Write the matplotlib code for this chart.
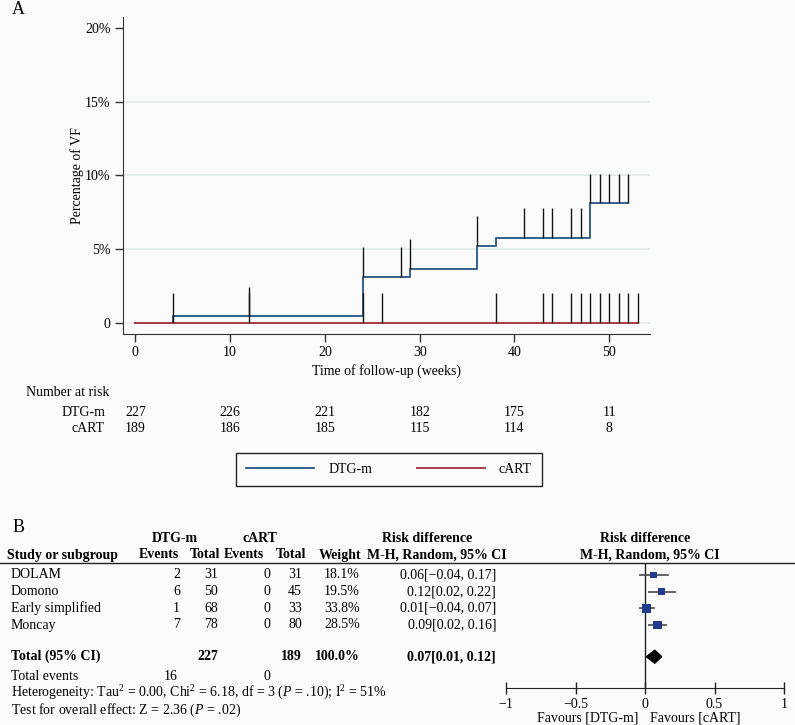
import matplotlib
matplotlib.use('Agg')
import matplotlib.pyplot as plt
import numpy as np
from matplotlib.lines import Line2D
from matplotlib.patches import Polygon
from matplotlib import transforms

plt.rcParams['font.family'] = ['Liberation Serif', 'DejaVu Serif']
plt.rcParams['mathtext.fontset'] = 'custom'
plt.rcParams['mathtext.rm'] = 'Liberation Serif'
plt.rcParams['mathtext.it'] = 'Liberation Serif:italic'
plt.rcParams['mathtext.bf'] = 'Liberation Serif:bold'

W, H = 795, 725
BG = '#fbfbfb'
BLUE = '#36608c'
RED = '#ac3b47'
FS = 10

# --- panel A: cumulative % with virological failure ---
dtg_t = [0, 4, 24, 29, 36, 38, 48, 52]
dtg_pct = [0, 0.44, 3.14, 3.66, 5.22, 5.78, 8.11, 8.11]
cart_t = [0, 53]
cart_pct = [0, 0]
dtg_cens = [12, 24, 28, 29, 36, 41, 43, 44, 46, 47, 48, 49, 50, 51, 52]
cart_cens = [4, 12, 24, 26, 38, 43, 44, 46, 47, 48, 49, 50, 51, 52, 53]

risk_t = [0, 10, 20, 30, 40, 50]
dtg_risk = [227, 226, 221, 182, 175, 11]
cart_risk = [189, 186, 185, 115, 114, 8]

# --- panel B: meta-analysis ---
studies = ['DOLAM', 'Domono', 'Early simplified', 'Moncay']
dtg_ev = [2, 6, 1, 7]
dtg_n = [31, 50, 68, 78]
cart_ev = [0, 0, 0, 0]
cart_n = [31, 45, 33, 80]
weight = [18.1, 19.5, 33.8, 28.5]
rd = [0.06, 0.12, 0.01, 0.09]
rd_lo = [-0.04, 0.02, -0.04, 0.02]
rd_hi = [0.17, 0.22, 0.07, 0.16]
tot_weight = 100.0
tot_rd, tot_lo, tot_hi = 0.07, 0.01, 0.12


def fx(x):
    return x / W


def fy(y):
    return 1 - y / H


def level(ts, times, vals):
    i = np.searchsorted(times, ts, side='right') - 1
    return np.asarray(vals)[i]


def fmt_ci(m, lo, hi):
    return f"{m:.2f}[{lo:.2f}, {hi:.2f}]".replace('-', '\u2212')


fig = plt.figure(figsize=(W / 100, H / 100), dpi=100, facecolor=BG)


def put(x, y, s, **kw):
    kw.setdefault('fontsize', FS)
    kw.setdefault('va', 'center')
    fig.text(fx(x), fy(y), s, **kw)


# ---------------- Panel A ----------------
ax = fig.add_axes([fx(123), fy(334), (650 - 123) / W, (334 - 17) / H])
ax.set_facecolor(BG)
ax.set_xlim(-1.3, 54.3)
ax.set_ylim(-0.75, 20.75)
ax.set_yticks([0, 5, 10, 15, 20])
ax.set_yticklabels(['0', '5%', '10%', '15%', '20%'])
ax.set_xticks(range(0, 51, 10))
ax.grid(axis='y', color='#e2e8ea', lw=1.1)
ax.yaxis.get_gridlines()[-1].set_visible(False)
ax.set_axisbelow(True)
for s in ['top', 'right']:
    ax.spines[s].set_visible(False)
for s in ['left', 'bottom']:
    ax.spines[s].set_color('#333333')
ax.tick_params(length=6, width=1, color='#333333', labelsize=10, pad=3)

l1, = ax.step(dtg_t, dtg_pct, where='post', color=BLUE, lw=1.4, zorder=3)
l2, = ax.step(cart_t, cart_pct, where='post', color=RED, lw=1.4, zorder=4)
lv = level(dtg_cens, dtg_t, dtg_pct)
ax.vlines(dtg_cens, lv, lv + 2, color='#151515', lw=1, zorder=5)
lv = level(cart_cens, cart_t, cart_pct)
ax.vlines(cart_cens, lv, lv + 2, color='#151515', lw=1, zorder=5)

ax.set_ylabel('Percentage of VF', fontsize=FS)
ax.yaxis.set_label_coords(-0.074, 0.5)
ax.set_xlabel('Time of follow-up (weeks)', fontsize=FS)
ax.xaxis.set_label_coords(0.5, -0.095)

put(12, 10, 'A', fontsize=13, ha='left')

# number at risk
put(26, 393, 'Number at risk', ha='left')
put(105, 412, 'DTG-m', ha='right')
put(105, 428, 'cART', ha='right')
tr = transforms.blended_transform_factory(ax.transData, fig.transFigure)
for t, a, b in zip(risk_t, dtg_risk, cart_risk):
    ax.text(t, fy(412), str(a), transform=tr, ha='center', va='center', fontsize=FS)
    ax.text(t, fy(428), str(b), transform=tr, ha='center', va='center', fontsize=FS)

fig.legend(handles=[l1, l2], labels=['DTG-m', 'cART'], loc='center left',
           bbox_to_anchor=(fx(236), fy(469.5)), ncol=2, frameon=True,
           fancybox=False, edgecolor='#222222', facecolor=BG, framealpha=1,
           handlelength=4.9, columnspacing=3.2, handletextpad=1.0,
           borderpad=0.75, borderaxespad=0, fontsize=FS)

# ---------------- Panel B ----------------
put(13, 527, 'B', fontsize=13, ha='left')
fig.add_artist(Line2D([0, 1], [fy(563), fy(563)], color='#222222', lw=1))

bold = dict(fontweight='bold')
put(175, 538, 'DTG-m', ha='center', **bold)
put(260, 538, 'cART', ha='center', **bold)
put(427, 538, 'Risk difference', ha='center', **bold)
put(645, 538, 'Risk difference', ha='center', **bold)
put(7, 555, 'Study or subgroup', ha='left', **bold)
put(159, 555, 'Events', ha='center', **bold)
put(205, 555, 'Total', ha='center', **bold)
put(244, 555, 'Events', ha='center', **bold)
put(291, 555, 'Total', ha='center', **bold)
put(340, 555, 'Weight', ha='center', **bold)
put(437, 555, 'M-H, Random, 95% CI', ha='center', **bold)
put(650, 555, 'M-H, Random, 95% CI', ha='center', **bold)

row_y = [575, 591.7, 608.3, 625]
col_x = [180, 218, 270, 302, 360, 496]
for i, y in enumerate(row_y):
    put(11, y, studies[i], ha='left')
    vals = [str(dtg_ev[i]), str(dtg_n[i]), str(cart_ev[i]), str(cart_n[i]),
            f"{weight[i]:.1f}%", fmt_ci(rd[i], rd_lo[i], rd_hi[i])]
    for x, v in zip(col_x, vals):
        put(x, y, v, ha='right')

y_tot = 656.7
put(11, y_tot, 'Total (95% CI)', ha='left', **bold)
put(col_x[1], y_tot, str(sum(dtg_n)), ha='right', **bold)
put(col_x[3], y_tot, str(sum(cart_n)), ha='right', **bold)
put(col_x[4], y_tot, f"{tot_weight:.1f}%", ha='right', **bold)
put(col_x[5], y_tot, fmt_ci(tot_rd, tot_lo, tot_hi), ha='right', **bold)

put(11, 676.7, 'Total events', ha='left')
put(178, 676.7, str(sum(dtg_ev)), ha='right')
put(col_x[2], 676.7, str(sum(cart_ev)), ha='right')
put(11, 693.3, 'Heterogeneity: Tau$^2$ = 0.00, Chi$^2$ = 6.18, df = 3 ($P$ = .10); I$^2$ = 51%', ha='left')
put(11, 710.5, 'Test for overall effect: Z = 2.36 ($P$ = .02)', ha='left')

ax2 = fig.add_axes([fx(506), fy(688), (784 - 506) / W, (688 - 563) / H])
ax2.set_facecolor('none')
ax2.set_xlim(-1, 1)
ax2.set_ylim(688, 563)
ax2.set_yticks([])
for s in ['top', 'right', 'left']:
    ax2.spines[s].set_visible(False)
ax2.spines['bottom'].set_color('#222222')
ax2.set_xticks([-1, -0.5, 0, 0.5, 1])
ax2.set_xticklabels(['\u22121', '\u22120.5', '0', '0.5', '1'])
ax2.tick_params(direction='inout', length=9, width=1, color='#222222',
                labelsize=FS, pad=2.5)
ax2.axvline(0, color='#222222', lw=1, zorder=1)
ax2.hlines(row_y, rd_lo, rd_hi, color='#4a4a4a', lw=1.2, zorder=2)
ax2.scatter(rd, row_y, marker='s', s=np.array(weight) * 1.2, color='#223b8f',
            zorder=3, linewidths=0)
ax2.add_patch(Polygon([(tot_lo, y_tot), (tot_rd, y_tot - 6.5), (tot_hi, y_tot),
                       (tot_rd, y_tot + 6.5)], closed=True, color='black', zorder=3))

put(638, 718, 'Favours [DTG-m]', ha='right')
put(650, 718, 'Favours [cART]', ha='left')

fig.savefig('out.png', dpi=100, facecolor=BG)
